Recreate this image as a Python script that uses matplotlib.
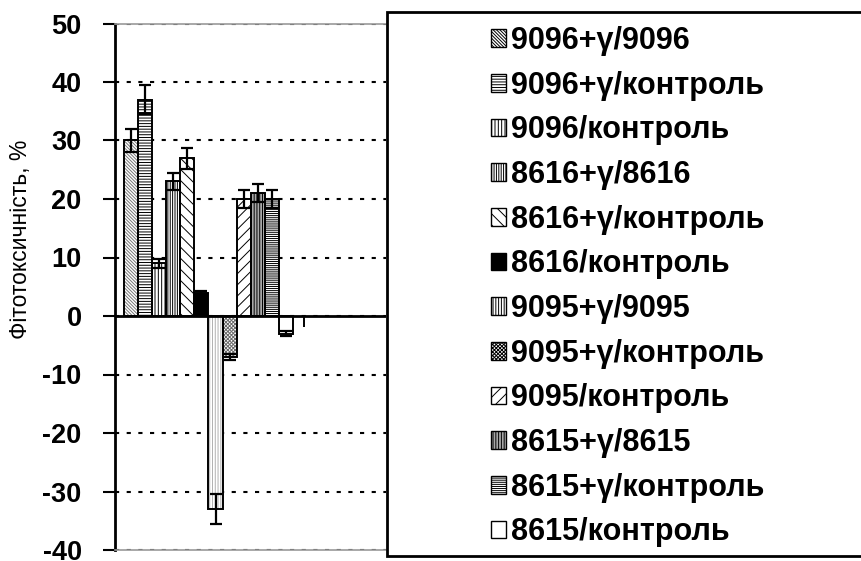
import numpy as np
import matplotlib
matplotlib.use("Agg")
import matplotlib.pyplot as plt
from matplotlib.patches import Patch, Rectangle

plt.rcParams["font.family"] = ["Liberation Sans", "DejaVu Sans"]
plt.rcParams["axes.unicode_minus"] = False
plt.rcParams["hatch.linewidth"] = 0.7

# data
labels = [
    "9096+γ/9096", "9096+γ/контроль", "9096/контроль",
    "8616+γ/8616", "8616+γ/контроль", "8616/контроль",
    "9095+γ/9095", "9095+γ/контроль", "9095/контроль",
    "8615+γ/8615", "8615+γ/контроль", "8615/контроль",
]
values = [30, 37, 9, 23, 27, 4, -33, -7, 20, 21, 20, -3]
errors = [2, 2.5, 0.8, 1.5, 1.8, 0.3, 2.5, 0.5, 1.5, 1.5, 1.5, 0.4]

# stray lower error whisker right of the last bar
stray_value = 0
stray_err_low = 1.8

# fill / hatch / hatch colour per series
faces = ["white", "white", "white", "white", "white", "black",
         "white", "white", "white", "#a8a8a8", "white", "white"]
hatches = ["\\" * 10, "-" * 6, "|" * 5, "|" * 7, "\\" * 3, None,
           "|" * 6, "x" * 9, "/" * 3, "|" * 6, "-" * 8, None]
hcolors = ["#777777", "black", "black", "black", "black", "black",
           "#b0b0b0", "#6a6a6a", "black", "black", "black", "black"]

W, H = 861, 561
fig = plt.figure(figsize=(W / 100, H / 100), dpi=100)
ax = fig.add_axes([115 / W, (H - 550) / H, (386 - 115) / W, (550 - 23.5) / H])

x = np.arange(len(values))
for i in x:
    # hatch layer (so hatch can have its own colour) then black outline
    ax.bar(i, values[i], width=1.0, color=faces[i], hatch=hatches[i],
           edgecolor=hcolors[i], linewidth=0, zorder=2)
    ax.bar(i, values[i], width=1.0, fill=False, edgecolor="black",
           linewidth=1.4, zorder=3)
ax.errorbar(x, values, yerr=errors, fmt="none", ecolor="black",
            elinewidth=1.6, capsize=4.5, capthick=1.6, zorder=4)
ax.errorbar([len(values) + 0.25], [stray_value], yerr=[[stray_err_low], [0]],
            fmt="none", ecolor="black", elinewidth=1.4, capsize=0, zorder=4)

ax.axhline(0, color="black", linewidth=2, zorder=5)

ax.set_xlim(-1.14, 18.11)
ax.set_ylim(-40, 50)
ax.set_yticks(np.arange(-40, 51, 10))
ax.set_xticks([])
ax.tick_params(axis="y", direction="out", length=9, width=1.5, pad=15,
               labelsize=19.5)
for t in ax.get_yticklabels():
    t.set_fontweight("bold")

ax.yaxis.grid(True, color="black", linewidth=1.5, linestyle=(0, (2, 3.6)))
ax.set_axisbelow(True)

ax.spines["left"].set_linewidth(2)
ax.spines["right"].set_visible(False)
for s in ("top", "bottom"):
    ax.spines[s].set_color("#9a9a9a")
    ax.spines[s].set_linewidth(1.2)
    ax.spines[s].set_linestyle((0, (1, 1)))

ax.set_ylabel("Фітотоксичність, %", fontsize=16.5)
ax.yaxis.set_label_coords(-0.305, 0.59)

# legend box (runs off the right edge like the original)
fig.patches.append(Rectangle((386.5 / W, (H - 556) / H), 500 / W,
                             (556 - 12) / H, transform=fig.transFigure,
                             facecolor="white", edgecolor="black",
                             linewidth=2, zorder=10))
handles = [Patch(facecolor=faces[i], hatch=hatches[i], edgecolor="black",
                 linewidth=1, label=labels[i]) for i in x]
leg = fig.legend(handles=handles, loc="upper left",
                 bbox_to_anchor=(491 / W, 1 - 26 / H),
                 frameon=False, prop={"weight": "bold", "size": 22},
                 handlelength=0.5, handleheight=0.5, handletextpad=0.15,
                 labelspacing=0.48, borderpad=0, borderaxespad=0)
leg.set_zorder(11)

fig.savefig("out.png", dpi=100)
